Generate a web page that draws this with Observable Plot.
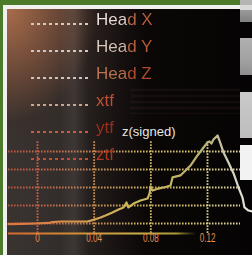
<!DOCTYPE html>
<html><head><meta charset="utf-8">
<script src="https://cdn.jsdelivr.net/npm/d3@7"></script>
<script src="https://cdn.jsdelivr.net/npm/@observablehq/plot@0.6"></script>
<style>
html,body{margin:0;padding:0;}
body{width:252px;height:255px;overflow:hidden;position:relative;background:#4c7a2b;font-family:"Liberation Sans",Arial,sans-serif;}
.abs{position:absolute;}
#frame{left:3px;top:5px;width:249px;height:250px;background:#f0f0ee;}
#panel{left:7px;top:9px;width:245px;height:246px;
 background:
  radial-gradient(ellipse 120px 150px at 0px 0px, rgba(172,110,76,0.97) 0%, rgba(140,88,62,0.65) 40%, rgba(60,40,32,0.2) 75%, rgba(0,0,0,0) 100%),
  linear-gradient(to right, #3a3431 0px, #322d2b 55px, #1c1615 100px, #0b0707 140px, #050303 100%);}
#streak{left:60px;top:9px;width:28px;height:246px;background:linear-gradient(to right, rgba(255,255,255,0), rgba(255,240,230,0.08), rgba(255,255,255,0));}
#hstreak{left:130px;top:88px;width:110px;height:26px;background:repeating-linear-gradient(to bottom, rgba(120,80,70,0.0) 0px, rgba(120,80,70,0.14) 2px, rgba(120,80,70,0) 4px, rgba(0,0,0,0) 6px);}
#chart{left:0;top:0;}
#legend{left:0;top:0;width:252px;height:255px;}
.row{position:absolute;height:17px;line-height:17px;font-size:17px;white-space:nowrap;}
.dots{position:absolute;height:2px;width:59px;}
.lbl{position:absolute;left:0;top:0;-webkit-background-clip:text;background-clip:text;color:transparent;}
</style></head>
<body>
<div id="frame" class="abs"></div>
<div id="panel" class="abs"></div>
<div id="streak" class="abs"></div>
<div id="hstreak" class="abs"></div>
<div class="abs" style="left:240px;top:0;width:12px;height:5px;background:#b4b4b2"></div>
<div class="abs" style="left:240px;top:5px;width:12px;height:5px;background:#d8d8d6"></div>
<div class="abs" style="left:240px;top:10px;width:12px;height:12px;background:linear-gradient(#9a9a9a,#808080)"></div>
<div class="abs" style="left:240px;top:38px;width:12px;height:37px;background:linear-gradient(#b0b0b0,#a2a2a2 60%,#8e8e8e)"></div>
<div class="abs" style="left:240px;top:92px;width:12px;height:46px;background:linear-gradient(#cacaca,#bdbdbd)"></div>
<div class="abs" style="left:240px;top:145px;width:12px;height:35px;background:#f2f2f2"></div>
<div id="chart" class="abs"></div>
<div id="legend" class="abs"></div>
<script>
// ---- data ----
const timeValues = [-0.0205, -0.012, -0.0014, 0.0078, 0.0106, 0.0162, 0.0268, 0.0353, 0.0388, 0.0424, 0.0445, 0.048, 0.0529, 0.0572, 0.0607, 0.0621, 0.0628, 0.0635, 0.0642, 0.0678, 0.0727, 0.0777, 0.0791, 0.0798, 0.0805, 0.0812, 0.0854, 0.0904, 0.0939, 0.0953, 0.1009, 0.1045, 0.108, 0.1129, 0.1172, 0.12, 0.1214, 0.1228, 0.1242, 0.1271, 0.1292, 0.1313, 0.1348, 0.1384, 0.1419, 0.1447, 0.1461, 0.1489, 0.1518];
const zValues    = [-0.03, -0.02, 0, 0.03, 0.08, 0.11, 0.11, 0.11, 0.19, 0.28, 0.33, 0.44, 0.61, 0.78, 0.89, 1.06, 1.17, 1.0, 0.89, 1.11, 1.28, 1.39, 1.67, 2.06, 1.89, 1.83, 1.94, 2.03, 2.11, 2.56, 2.67, 2.94, 3.22, 3.78, 4.22, 4.5, 4.56, 4.44, 4.67, 4.89, 4.44, 3.94, 3.39, 2.78, 2.0, 1.44, 0.89, 0.72, 0.67];
const xTicks = [0, 0.04, 0.08, 0.12];
const xTickLabels = ["0", "0.04", "0.08", "0.12"];
const yGrid = [0, 1, 2, 3, 4];
const legendLabels = ["Head X", "Head Y", "Head Z", "xtf", "ytf", "ztf"];
const legendDotColors = ["#d6cabe", "#cccac8", "#d0c4ba", "#cca492", "#c65e44", "#c64e36"];
const legendTextFills = [
  "linear-gradient(90deg,#ece6e0 0%,#e4d8d0 50%,#b86a48 58%,#b05c3c 100%)",
  "linear-gradient(90deg,#dcccc4 0%,#d4bcb0 50%,#b8643e 58%,#b45a36 100%)",
  "linear-gradient(90deg,#bc7656 0%,#b8704e 50%,#b24e32 58%,#ae462c 100%)",
  "linear-gradient(90deg,#c45636,#bc4a30)",
  "linear-gradient(90deg,#a2301e,#962a1a)",
  "linear-gradient(90deg,#b23c26,#aa3422)"
];
const seriesLabel = "z(signed)";

const data = timeValues.map((t, i) => ({t, z: zValues[i]}));

const chart = Plot.plot({
  width: 252, height: 255, margin: 0,
  style: {background: "transparent", fontFamily: "'Liberation Sans', Arial, sans-serif", overflow: "visible"},
  x: {domain: [-0.02612, 0.15176], axis: null},
  y: {domain: [-1.778, 12.389], axis: null},
  marks: [
    Plot.ruleY(yGrid, {x1: -0.0205, x2: 0.1433, stroke: "url(#gridGrad)", strokeWidth: 1.8, strokeDasharray: "1.6,1.4"}),
    Plot.ruleX(xTicks, {y1: -0.55, y2: 4.6, stroke: "url(#gridGrad)", strokeWidth: 1.8, strokeDasharray: "1.6,1.4"}),
    Plot.ruleY([-0.55], {x1: -0.0205, x2: 0.112, stroke: "url(#baseGrad)", strokeWidth: 2}),
    Plot.line(data, {x: "t", y: "z", stroke: "url(#lineGrad)", strokeWidth: 2.2}),
    Plot.text(xTicks, {x: d => d, frameAnchor: "bottom", dy: -14, text: (d, i) => xTickLabels[i], fill: "url(#tickGrad)", fontSize: 13.5})
  ]
});

// gradients (styling only)
const ns = "http://www.w3.org/2000/svg";
const defs = document.createElementNS(ns, "defs");
function grad(id, stops) {
  const g = document.createElementNS(ns, "linearGradient");
  g.setAttribute("id", id);
  g.setAttribute("gradientUnits", "userSpaceOnUse");
  g.setAttribute("x1", 0); g.setAttribute("y1", 0); g.setAttribute("x2", 252); g.setAttribute("y2", 0);
  stops.forEach(([o, c, op]) => {
    const s = document.createElementNS(ns, "stop");
    s.setAttribute("offset", o); s.setAttribute("stop-color", c);
    if (op != null) s.setAttribute("stop-opacity", op);
    g.appendChild(s);
  });
  defs.appendChild(g);
}
grad("lineGrad", [[0, "#de743e"], [0.2, "#dc8448"], [0.36, "#d0a454"], [0.5, "#ccb65c"], [0.7, "#c0b464"], [0.83, "#bab27c"], [0.92, "#d6d4c2"], [1, "#e8e8de"]]);
grad("gridGrad", [[0, "#bc4c3a"], [0.15, "#c46046"], [0.35, "#c48652"], [0.55, "#c8ae5c"], [0.75, "#d2c270"], [0.95, "#dcd2a0"]]);
grad("baseGrad", [[0, "#d6642e"], [0.3, "#d08e36"], [0.55, "#cab046"], [0.7, "#a89a38"], [0.78, "#8a7e30", 0]]);
grad("tickGrad", [[0.1, "#e48c52"], [0.37, "#d4a674"], [0.6, "#ddcb7c"], [0.82, "#eeeee0"]]);
chart.insertBefore(defs, chart.firstChild);

// condensed tick digits
chart.querySelectorAll('g[aria-label="text"] text').forEach(t => {
  const tr = t.getAttribute("transform") || "";
  t.setAttribute("transform", tr + " scale(0.6,1)");
});
document.getElementById("chart").appendChild(chart);

// legend overlay
const legend = document.getElementById("legend");
legendLabels.forEach((lab, i) => {
  const base = 25 + i * 27;
  const dots = document.createElement("div");
  dots.className = "dots";
  dots.style.left = "31px";
  dots.style.top = (base - 2) + "px";
  dots.style.background = `repeating-linear-gradient(to right, ${legendDotColors[i]} 0 3px, rgba(0,0,0,0) 3px 6px)`;
  legend.appendChild(dots);
  const row = document.createElement("div");
  row.className = "row";
  row.style.left = "96px";
  row.style.top = (base - 14) + "px";
  const s = document.createElement("span");
  s.className = "lbl";
  s.textContent = lab;
  s.style.backgroundImage = legendTextFills[i];
  row.appendChild(s);
  legend.appendChild(row);
});
const zl = document.createElement("div");
zl.className = "row";
zl.style.left = "122px";
zl.style.top = "125px";
zl.style.fontSize = "13px";
zl.style.lineHeight = "13px";
zl.style.color = "#e6e6e4";
zl.textContent = seriesLabel;
legend.appendChild(zl);
</script>
</body></html>
